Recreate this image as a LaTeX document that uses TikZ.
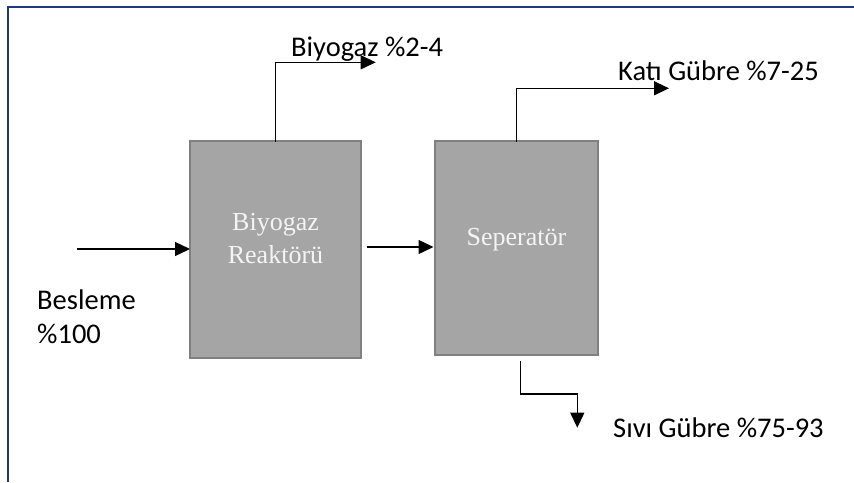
\documentclass[tikz,border=0pt]{standalone}
\usepackage{fontspec}
\setmainfont{Liberation Serif}
\newfontfamily\labelfont{Carlito}
\usetikzlibrary{arrows.meta}
\definecolor{framecol}{HTML}{1F3A78}
\definecolor{boxfill}{HTML}{A5A5A5}
\definecolor{boxedge}{HTML}{808080}
\definecolor{boxtext}{HTML}{F4F4F4}
\tikzset{
  unitbox/.style={rectangle, draw=boxedge, fill=boxfill, line width=2pt,
    inner sep=0pt, outer sep=0pt},
  unitname/.style={font=\fontsize{26}{33}\selectfont, text=boxtext,
    anchor=base, inner sep=0pt, align=center},
  streamlabel/.style={font=\labelfont\fontsize{28.5}{34}\selectfont,
    anchor=base west, inner sep=0pt, align=left},
  flow/.style={line width=1.3pt, line cap=rect,
    -{Triangle[length=15pt,width=14pt]}}
}
\begin{document}
\begin{tikzpicture}[x=1pt,y=-1pt]
  \useasboundingbox (0,0) rectangle (854,482);
  % page frame (open at the right and bottom)
  \draw[framecol, line width=2pt] (8,482) -- (8,7) -- (854,7);

  % process units
  \node[unitbox, minimum width=171pt, minimum height=217pt] (reactor) at (275.5,249.5) {};
  \node[unitbox, minimum width=163pt, minimum height=214pt] (sep) at (516.5,248) {};
  % multi-line nodes sit on the baseline of their last line
  \node[unitname] (reactortxt) at (275.5,263) {Biyogaz\\Reaktörü};
  \node[unitname] (septxt) at (516.5,245) {Seperatör};

  % stream labels
  \node[streamlabel] (feedtxt) at (37,343) {Besleme\\\%100};
  \node[streamlabel] (gastxt) at (291,56.5) {Biyogaz \%2-4};
  \node[streamlabel] (solidtxt) at (618,80) {Katı Gübre \%7-25};
  \node[streamlabel] (liqtxt) at (613,437) {Sıvı Gübre \%75-93};

  % stream end points
  \coordinate (feed) at (78,249);
  \coordinate (mid) at (368,247);
  \coordinate (gasend) at (375.7,62.3);
  \coordinate (solidend) at (669,88.3);
  \coordinate (liqstart) at (520.7,362);
  \coordinate (liqend) at (577.3,427.7);

  % streams
  \draw[flow] (feed) -- (feed -| reactor.west);
  \draw[flow, shorten >=1.5pt] (mid) -- (mid -| sep.west);
  \draw[flow] (reactor.north) |- (gasend);
  \draw[flow] (sep.north) |- (solidend);
  \draw[flow] (liqstart) -- (liqstart |- 0,394) -- (liqend |- 0,394) -- (liqend);
\end{tikzpicture}
\end{document}
